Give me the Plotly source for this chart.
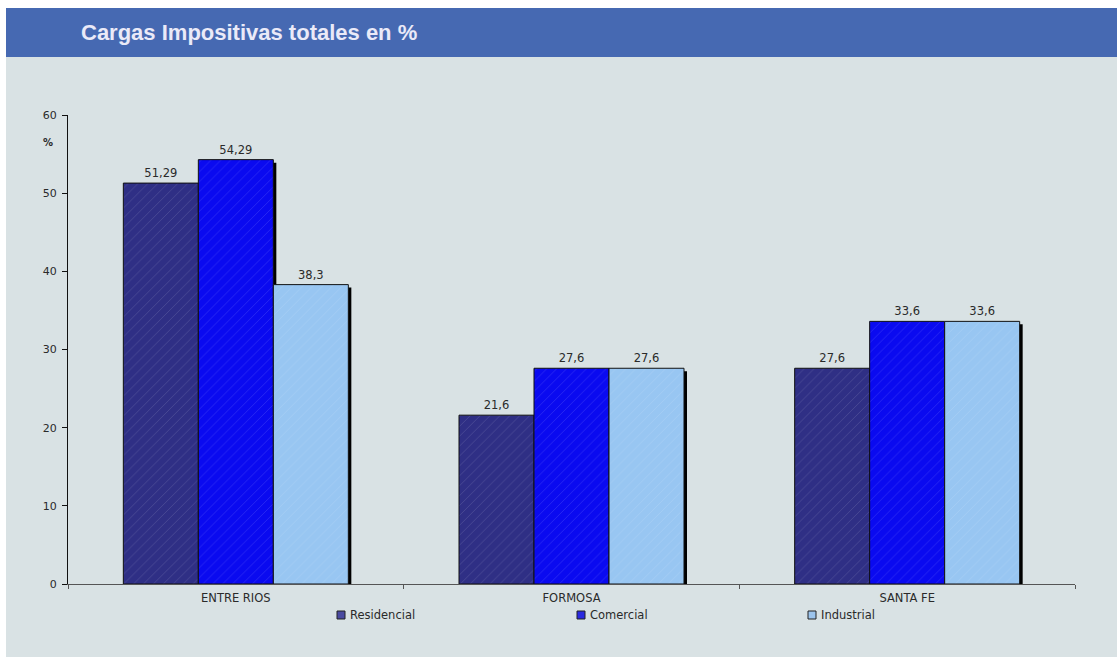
import plotly.graph_objects as go

categories = ["ENTRE RIOS", "FORMOSA", "SANTA FE"]
series_names = ["Residencial", "Comercial", "Industrial"]
residencial = [51.29, 21.6, 27.6]
comercial = [54.29, 27.6, 33.6]
industrial = [38.3, 27.6, 33.6]
series_values = [residencial, comercial, industrial]
colors = ["#2f2f85", "#0a0af0", "#98c6f2"]
legend_colors = ["#4a4aa0", "#2a2ae0", "#9cc4ec"]

BG = "#d9e2e4"
L, R, T, B = 68, 42, 115, 73
W, H = 1117, 657
pw, ph = W - L - R, H - T - B
cat_px = pw / 3.0          # pixels per category
unit_px = ph / 60.0        # pixels per y unit
FONT = "DejaVu Sans, Verdana, sans-serif"
TXT = "#2a2a2a"

def px(x):
    return (x - L) / pw

def py(y):
    return (H - B - y) / ph

def fmt(v):
    s = ("%.2f" % v).rstrip("0").rstrip(".")
    return s.replace(".", ",")

bw = 75 / cat_px
offsets = [-1.5 * bw, -0.5 * bw, 0.5 * bw]
sh_dx = 3 / cat_px
sh_dy = 3 / unit_px

fig = go.Figure()
# shadows
for vals, off in zip(series_values, offsets):
    fig.add_trace(go.Bar(
        x=categories, y=[v - sh_dy for v in vals], offset=off + sh_dx, width=bw,
        marker=dict(color="#000000", line=dict(width=0)), showlegend=False,
        hoverinfo="skip",
    ))
for name, vals, col, off in zip(series_names, series_values, colors, offsets):
    fig.add_trace(go.Bar(
        x=categories, y=vals, name=name, offset=off, width=bw,
        marker=dict(color=col,
                    line=dict(color="#111111", width=1),
                    pattern=dict(shape="/", fgcolor="rgba(255,255,255,0.4)",
                                 size=7, solidity=0.08)),
        text=[fmt(v) for v in vals], textposition="outside",
        textfont=dict(family=FONT, size=11.5, color=TXT),
        cliponaxis=False, showlegend=False,
    ))

shapes = [
    dict(type="rect", xref="paper", yref="paper", x0=px(0), x1=px(W), y0=py(0), y1=py(8),
         fillcolor="white", line=dict(width=0), layer="below"),
    dict(type="rect", xref="paper", yref="paper", x0=px(0), x1=px(6), y0=py(0), y1=py(H),
         fillcolor="white", line=dict(width=0), layer="below"),
    dict(type="rect", xref="paper", yref="paper", x0=px(6), x1=px(W), y0=py(8), y1=py(57),
         fillcolor="#4669b2", line=dict(width=0), layer="below"),
]

annotations = [
    dict(text="<b>Cargas Impositivas totales en %</b>", xref="paper", yref="paper",
         x=px(79), y=py(32), xanchor="left", yanchor="middle", showarrow=False,
         font=dict(family="Liberation Sans, Arial, sans-serif", size=22, color="#eaeaf8")),
    dict(text="<b>%</b>", xref="paper", yref="paper", x=px(48), y=py(142),
         xanchor="center", yanchor="middle", showarrow=False,
         font=dict(family=FONT, size=10, color=TXT)),
]

# legend drawn as small squares with labels
legend_x = [337, 577, 808]
for name, col, lx in zip(series_names, legend_colors, legend_x):
    shapes.append(dict(type="rect", xref="paper", yref="paper",
                       x0=px(lx), x1=px(lx + 8), y0=py(619), y1=py(611),
                       fillcolor=col, line=dict(color="#222222", width=1)))
    annotations.append(dict(text=name, xref="paper", yref="paper",
                            x=px(lx + 11), y=py(615), xanchor="left", yanchor="middle",
                            showarrow=False, font=dict(family=FONT, size=11.5, color=TXT)))

fig.update_layout(
    width=W, height=H,
    margin=dict(l=L, r=R, t=T, b=B),
    paper_bgcolor=BG, plot_bgcolor=BG,
    barmode="overlay",
    shapes=shapes, annotations=annotations,
    font=dict(family=FONT, size=11, color=TXT),
    showlegend=False,
    xaxis=dict(showline=True, linecolor="#555555", linewidth=1, ticks="outside",
               tickson="boundaries", ticklen=4, tickcolor="#555555", showgrid=False,
               range=[-0.5, 2.5], ticklabelstandoff=3,
               tickfont=dict(family=FONT, size=11.5, color=TXT)),
    yaxis=dict(range=[0, 60], dtick=10, showline=True, linecolor="#111111", linewidth=1,
               ticks="outside", ticklen=5, tickcolor="#111111", showgrid=False, zeroline=False,
               ticklabelstandoff=3,
               tickfont=dict(family=FONT, size=11, color=TXT)),
)

fig.write_html("out.html", config={"displayModeBar": False},
               post_script="document.body.style.margin='0';")
